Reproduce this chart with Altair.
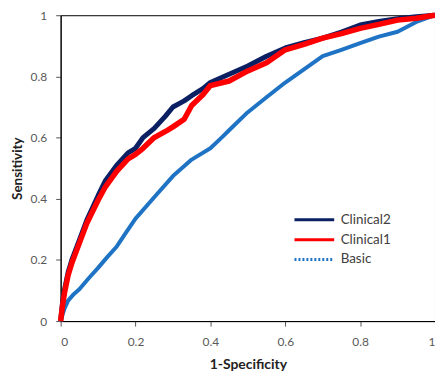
import altair as alt
import pandas as pd

c2_x = [0, 0.005, 0.01, 0.02, 0.03, 0.05, 0.07, 0.1, 0.12, 0.15, 0.18, 0.2, 0.22, 0.25, 0.28, 0.3, 0.33, 0.35, 0.38, 0.4, 0.45, 0.5, 0.55, 0.6, 0.65, 0.7, 0.75, 0.8, 0.85, 0.9, 0.95, 1.0]
c2_y = [0, 0.06, 0.1, 0.16, 0.2, 0.265, 0.33, 0.41, 0.46, 0.51, 0.55, 0.565, 0.6, 0.63, 0.67, 0.70, 0.72, 0.737, 0.76, 0.78, 0.807, 0.834, 0.866, 0.893, 0.91, 0.925, 0.945, 0.968, 0.98, 0.989, 0.995, 1.0]

c1_x = [0, 0.005, 0.01, 0.02, 0.03, 0.05, 0.07, 0.1, 0.12, 0.15, 0.18, 0.2, 0.22, 0.25, 0.28, 0.3, 0.33, 0.35, 0.38, 0.4, 0.45, 0.5, 0.55, 0.6, 0.65, 0.7, 0.75, 0.8, 0.85, 0.9, 0.95, 1.0]
c1_y = [0, 0.05, 0.09, 0.15, 0.19, 0.255, 0.32, 0.395, 0.44, 0.49, 0.53, 0.545, 0.565, 0.60, 0.62, 0.635, 0.66, 0.705, 0.74, 0.77, 0.785, 0.818, 0.845, 0.887, 0.905, 0.925, 0.94, 0.957, 0.97, 0.984, 0.99, 1.0]

b_x = [0, 0.005, 0.01, 0.02, 0.035, 0.05, 0.075, 0.1, 0.125, 0.15, 0.175, 0.2, 0.25, 0.3, 0.35, 0.4, 0.43, 0.45, 0.5, 0.55, 0.6, 0.65, 0.7, 0.75, 0.8, 0.85, 0.9, 0.95, 1.0]
b_y = [0, 0.02, 0.04, 0.067, 0.088, 0.104, 0.14, 0.174, 0.21, 0.244, 0.29, 0.335, 0.405, 0.474, 0.528, 0.565, 0.6, 0.624, 0.683, 0.732, 0.78, 0.823, 0.866, 0.887, 0.909, 0.93, 0.946, 0.978, 1.0]

series = ["Clinical2", "Clinical1", "Basic"]
colors = ["#0b1f63", "#ff0000", "#1f73c4"]
dashes = [[1, 0], [1, 0], [2, 2]]

frames = []
for name, xs, ys in [("Clinical2", c2_x, c2_y), ("Clinical1", c1_x, c1_y), ("Basic", b_x, b_y)]:
    frames.append(pd.DataFrame({"fpr": xs, "tpr": ys, "model": name, "ord": range(len(xs))}))
df = pd.concat(frames, ignore_index=True)

font = "Lato"
xax = alt.Axis(values=[0, 0.2, 0.4, 0.6, 0.8, 1], format="~g", grid=False, tickSize=5,
               domainColor="black", tickColor="#555", labelColor="#595959", labelFontSize=12,
               labelPadding=11, titleFontSize=14, titleFontWeight="bold", titleColor="#222",
               titlePadding=10, labelFont=font, titleFont=font)
yax = alt.Axis(values=[0, 0.2, 0.4, 0.6, 0.8, 1], format="~g", grid=False, tickSize=5,
               domainColor="black", tickColor="#555", labelColor="#595959", labelFontSize=12,
               labelPadding=9, titleFontSize=13.5, titleFontWeight="bold", titleColor="#222",
               titlePadding=6, labelFont=font, titleFont=font)

xenc = alt.X("fpr:Q", title="1-Specificity", scale=alt.Scale(domain=[0, 1], nice=False), axis=xax)
yenc = alt.Y("tpr:Q", title="Sensitivity", scale=alt.Scale(domain=[0, 1], nice=False), axis=yax)
cscale = alt.Scale(domain=series, range=colors)

leg = dict(orient="none", legendX=234, legendY=196, symbolType="stroke", symbolSize=1600,
           symbolStrokeWidth=3, clipHeight=20, labelFontSize=13.5, labelColor="#404040",
           labelFont=font, labelOffset=5, rowPadding=0)

legend_layer = alt.Chart(df).mark_line(strokeWidth=2).encode(
    x=xenc, y=yenc, order="ord:Q",
    color=alt.Color("model:N", scale=cscale, sort=series, title=None, legend=alt.Legend(**leg)),
    strokeDash=alt.StrokeDash("model:N", scale=alt.Scale(domain=series, range=dashes), sort=series,
                              title=None, legend=alt.Legend(**leg)),
)

layers = [legend_layer]
for name, w in [("Basic", 4), ("Clinical2", 5), ("Clinical1", 5.5)]:
    layers.append(
        alt.Chart(df[df.model == name]).mark_line(strokeWidth=w, strokeJoin="round").encode(
            x=xenc, y=yenc, order="ord:Q",
            color=alt.Color("model:N", scale=cscale, legend=None),
        )
    )

chart = alt.layer(*layers).properties(
    width=377, height=308,
    autosize=alt.AutoSizeParams(type="none"),
    padding={"left": 53, "top": 6, "right": 0, "bottom": 52},
    background="white",
).configure_view(stroke="black", strokeWidth=1)

chart.save("out.html", embed_options={"renderer": "svg", "actions": False})
